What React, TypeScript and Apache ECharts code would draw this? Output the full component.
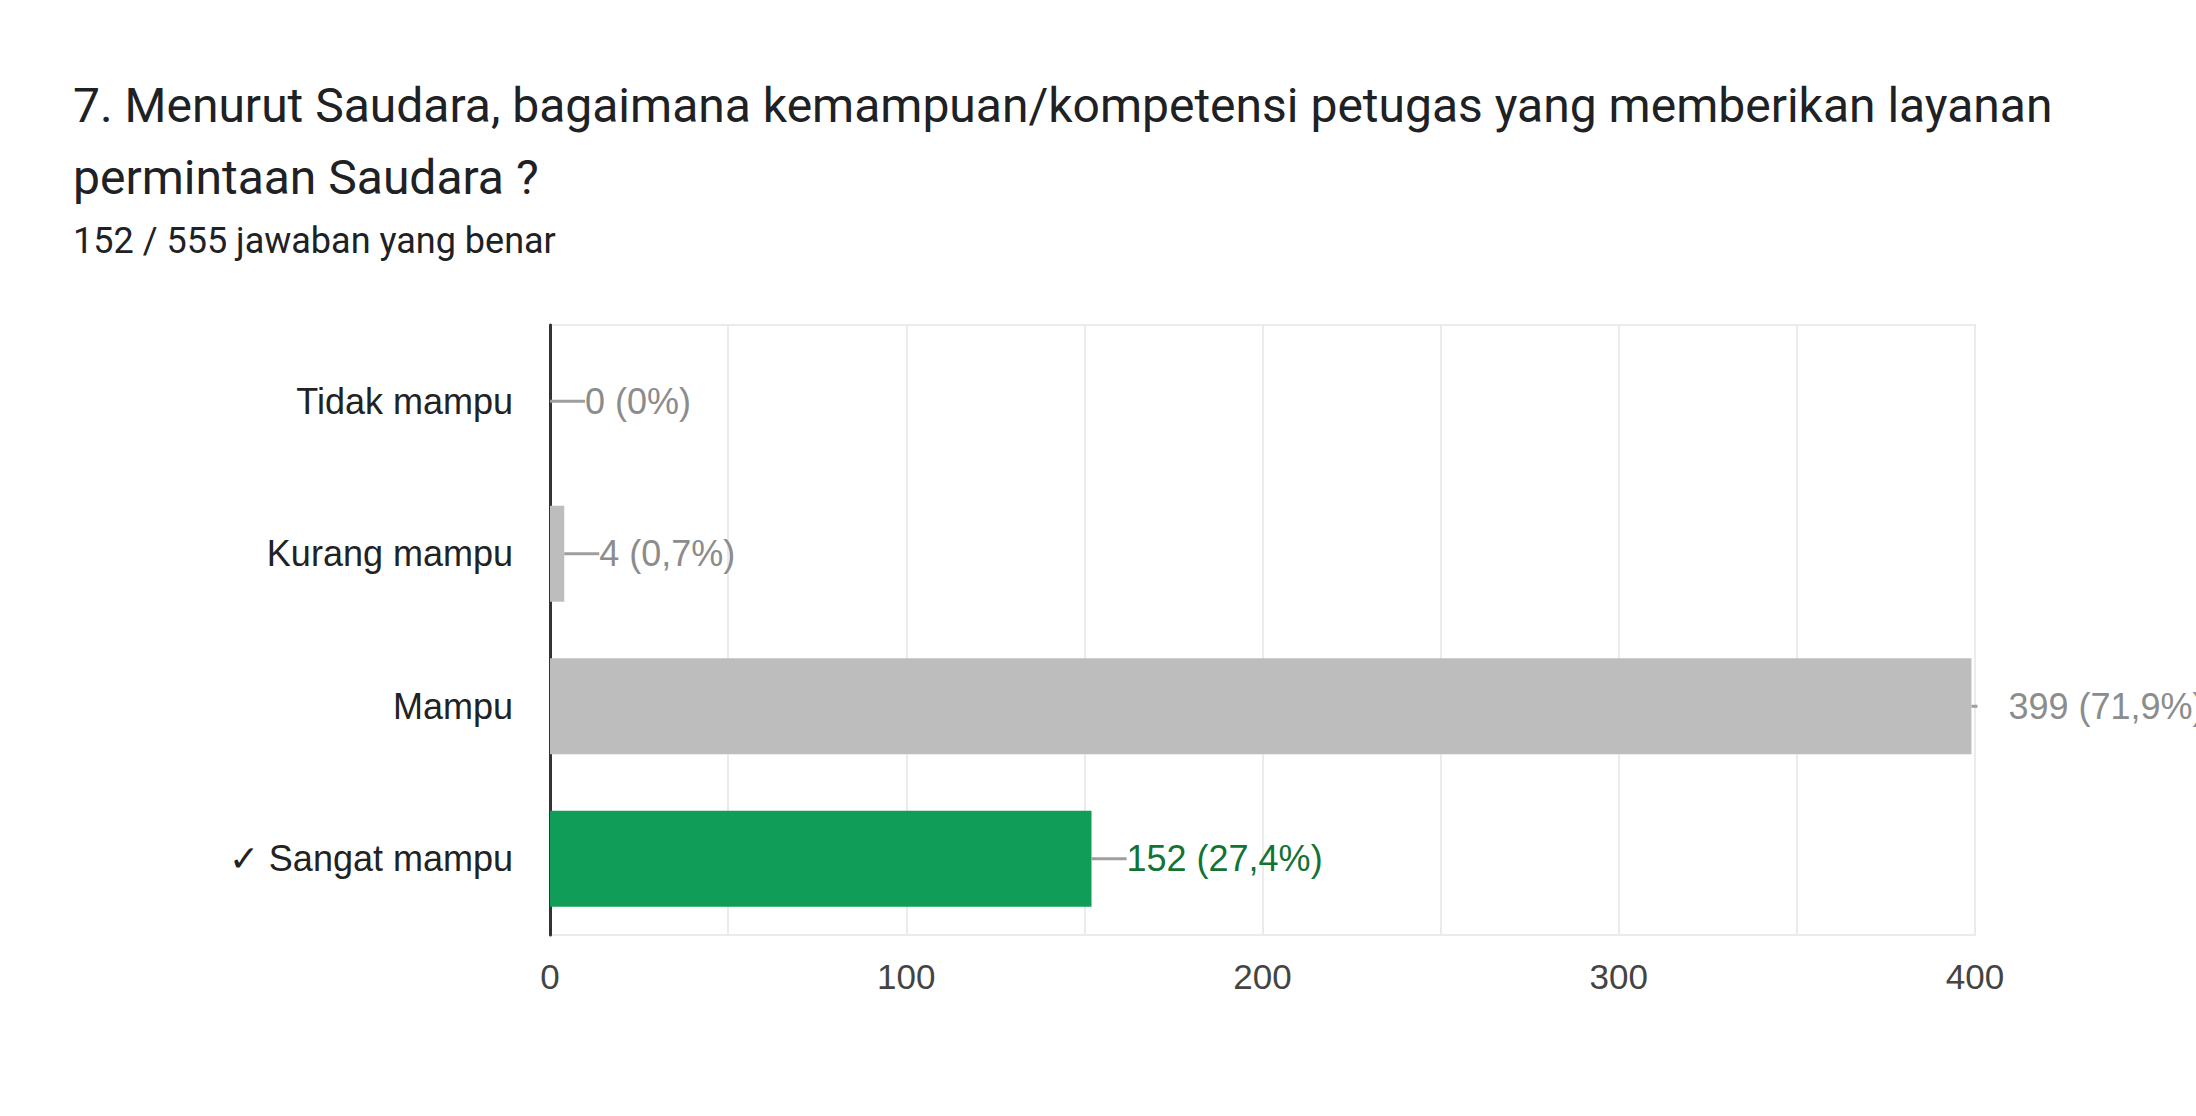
import React, { useEffect, useRef } from "react";
import * as echarts from "echarts";

const titleLines = [
  "7. Menurut Saudara, bagaimana kemampuan/kompetensi petugas yang memberikan layanan",
  "permintaan Saudara ?",
];
const subtitle = "152 / 555 jawaban yang benar";
const categories = ["Tidak mampu", "Kurang mampu", "Mampu", "✓ Sangat mampu"];
const counts = [0, 4, 399, 152];
const percentLabels = ["0%", "0,7%", "71,9%", "27,4%"];
const isCorrect = [false, false, false, true];
const xTicks = [0, 100, 200, 300, 400];

const GRAY = "#bdbdbd";
const GREEN = "#0f9d58";
const CHART_FONT = "'Liberation Sans', Arial, sans-serif";

export default function App() {
  const ref = useRef<HTMLDivElement>(null);
  useEffect(() => {
    if (!ref.current) return;
    const chart = echarts.init(ref.current, undefined, { renderer: "svg" });
    const data = counts.map((v, i) => ({
      value: v,
      itemStyle: { color: isCorrect[i] ? GREEN : GRAY },
      label: {
        formatter:
          v >= 390
            ? `{ln2| }{sp| }{${isCorrect[i] ? "g" : "t"}|${v} (${percentLabels[i]})}`
            : `{ln| }{${isCorrect[i] ? "g" : "t"}|${v} (${percentLabels[i]})}`,
      },
    }));
    chart.setOption({
      animation: false,
      backgroundColor: "#ffffff",
      title: [
        {
          text: titleLines.join("\n"),
          left: 73,
          top: 69,
          padding: 0,
          textStyle: {
            fontFamily: "Roboto, sans-serif",
            fontSize: 48,
            fontWeight: "normal",
            color: "#202124",
            lineHeight: 72,
          },
        },
        {
          text: subtitle,
          left: 73,
          top: 220,
          padding: 0,
          textStyle: {
            fontFamily: "Roboto, sans-serif",
            fontSize: 36,
            fontWeight: "normal",
            color: "#202124",
            lineHeight: 42,
          },
        },
      ],
      grid: {
        left: 550,
        right: 221,
        top: 325,
        bottom: 181,
        show: true,
        borderColor: "#ebebeb",
        borderWidth: 2,
        containLabel: false,
      },
      xAxis: {
        type: "value",
        min: 0,
        max: 400,
        interval: 50,
        axisLine: { show: false },
        axisTick: { show: false },
        splitLine: { lineStyle: { color: "#ebebeb", width: 2 } },
        axisLabel: {
          margin: 24,
          fontFamily: CHART_FONT,
          fontSize: 35,
          color: "#444444",
          formatter: (v: number) => (xTicks.includes(v) ? String(v) : ""),
        },
      },
      yAxis: {
        type: "category",
        inverse: true,
        data: categories,
        axisLine: { show: true, lineStyle: { color: "#333333", width: 3 } },
        axisTick: { show: false },
        axisLabel: {
          margin: 37,
          fontFamily: CHART_FONT,
          fontSize: 36,
          color: "#222222",
        },
      },
      series: [
        {
          type: "bar",
          data,
          barCategoryGap: "37%",
          itemStyle: { borderWidth: 0 },
          label: {
            show: true,
            position: "right",
            distance: 0,
            fontFamily: CHART_FONT,
            fontSize: 36,
            rich: {
              ln: { width: 35, height: 3, backgroundColor: "#9e9e9e", fontSize: 2 },
              ln2: { width: 6, height: 3, backgroundColor: "#9e9e9e", fontSize: 2 },
              sp: { width: 31, height: 3, fontSize: 2 },
              t: { fontFamily: CHART_FONT, fontSize: 36, color: "#8c8c8c" },
              g: { fontFamily: CHART_FONT, fontSize: 36, color: "#137333" },
            },
          },
        },
      ],
    });
    return () => chart.dispose();
  }, []);
  return (
    <div
      ref={ref}
      style={{ position: "fixed", left: 0, top: 0, width: "2196px", height: "1116px" }}
    />
  );
}
